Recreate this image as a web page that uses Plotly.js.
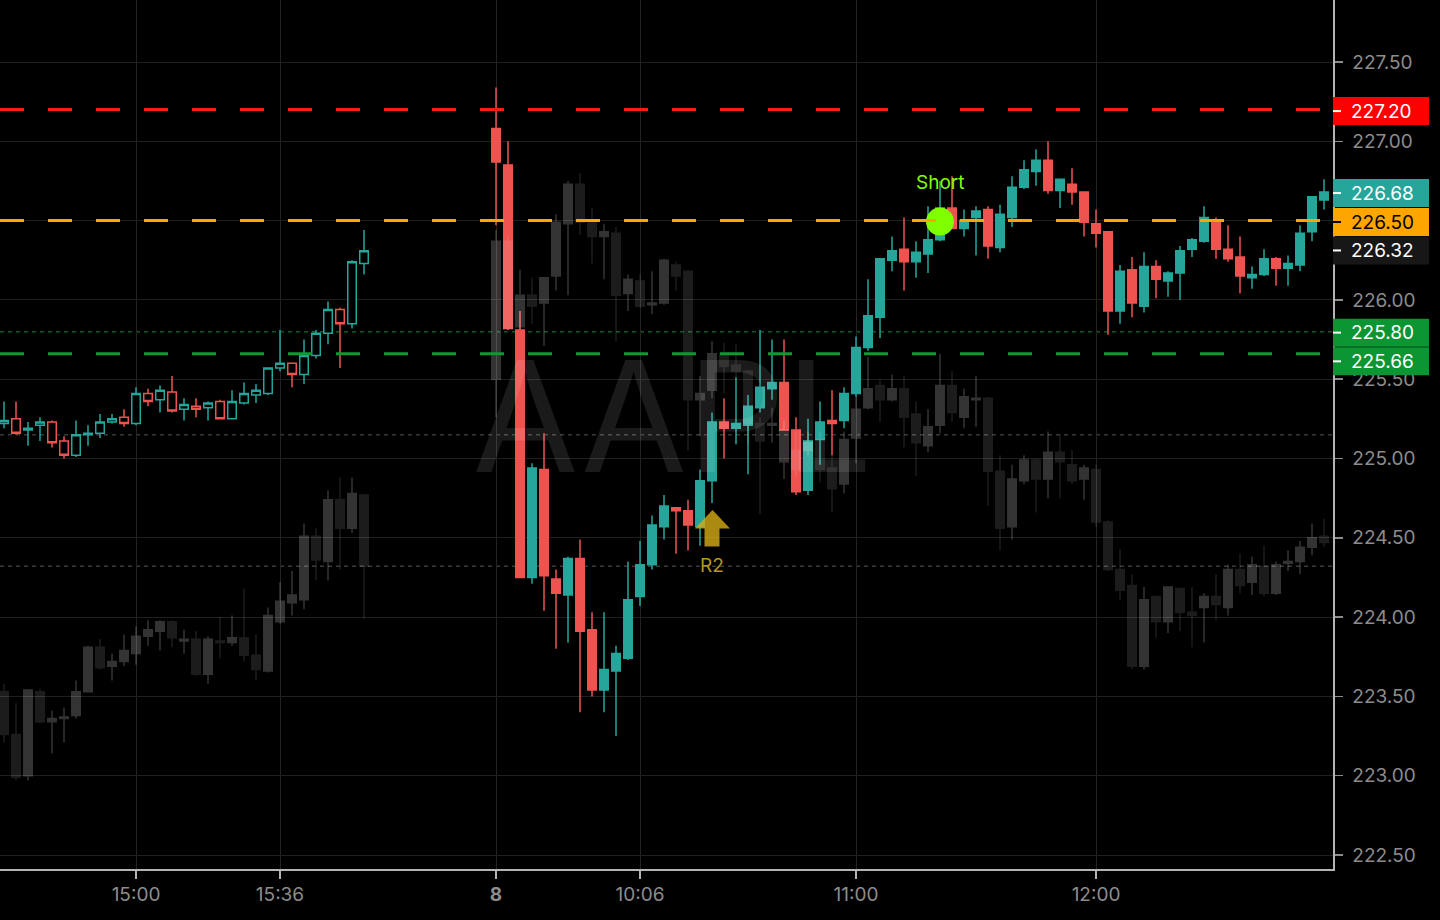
<!DOCTYPE html>
<html>
<head>
<meta charset="utf-8">
<script src="https://cdn.plot.ly/plotly-3.0.1.min.js"></script>
<style>
html,body{margin:0;padding:0;background:#000;overflow:hidden}
#chart{width:1440px;height:920px}
</style>
</head>
<body>
<div id="chart"></div>
<script>
// ---------- DATA ----------
// bar slots (3-minute bars); session 1 = 14:27..15:57, session 2 (day 8) = 09:30..12:57
const session1Slots = Array.from({length: 31}, (_, i) => i);
const session2Slots = Array.from({length: 70}, (_, i) => 41 + i);

const timeTickSlots  = [11, 23, 41, 53, 71, 91];
const timeTickLabels = ['15:00', '15:36', '<b>8</b>', '10:06', '11:00', '12:00'];
const priceTicks = [222.5, 223.0, 223.5, 224.0, 224.5, 225.0, 225.5, 226.0, 226.5, 227.0, 227.5];

// AAPL, session 1
const aaplOpen1  = [225.22,225.25,225.18,225.21,225.23,225.11,225.02,225.15,225.16,225.23,225.26,225.22,225.41,225.37,225.42,225.31,225.33,225.32,225.36,225.25,225.35,225.40,225.41,225.57,225.60,225.53,225.65,225.79,225.94,225.85,226.23];
const aaplHigh1  = [225.36,225.36,225.23,225.26,225.24,225.14,225.24,225.21,225.28,225.28,225.31,225.45,225.44,225.46,225.52,225.38,225.38,225.36,225.37,225.43,225.48,225.47,225.57,225.81,225.60,225.75,225.81,225.99,225.95,226.25,226.44];
const aaplLow1   = [225.19,225.15,225.08,225.11,225.07,225.00,225.01,225.08,225.13,225.22,225.20,225.21,225.33,225.29,225.29,225.24,225.26,225.24,225.25,225.25,225.34,225.35,225.40,225.55,225.45,225.47,225.63,225.72,225.57,225.82,226.16];
const aaplClose1 = [225.24,225.16,225.19,225.23,225.10,225.02,225.15,225.16,225.23,225.25,225.22,225.41,225.36,225.43,225.30,225.34,225.31,225.35,225.25,225.36,225.41,225.43,225.57,225.60,225.53,225.65,225.79,225.94,225.85,226.24,226.31];

// AAPL, session 2
const aaplOpen2  = [227.08,226.85,225.81,224.25,224.93,224.24,224.14,224.37,223.92,223.54,223.66,223.74,224.13,224.33,224.57,224.69,224.67,224.57,224.86,225.23,225.19,225.21,225.32,225.44,225.48,225.18,224.80,225.12,225.24,225.24,225.41,225.70,225.89,226.25,226.32,226.24,226.29,226.38,226.58,226.45,226.52,226.57,226.33,226.52,226.71,226.81,226.88,226.69,226.73,226.68,226.48,226.43,225.93,226.19,225.96,226.21,226.12,226.17,226.32,226.37,226.50,226.32,226.27,226.14,226.16,226.26,226.20,226.22,226.43,226.63];
const aaplHigh2  = [227.34,227.00,225.93,224.97,225.16,224.30,224.38,224.49,224.03,224.03,223.82,224.35,224.48,224.64,224.77,224.69,224.74,224.93,225.29,225.38,225.51,225.40,225.81,225.75,225.75,225.26,225.25,225.36,225.43,225.45,225.77,226.13,226.26,226.40,226.52,226.37,226.59,226.75,226.78,226.57,226.59,226.59,226.60,226.78,226.88,226.95,227.00,226.76,226.83,226.68,226.57,226.43,226.22,226.27,226.30,226.25,226.18,226.34,226.39,226.59,226.52,226.47,226.40,226.21,226.32,226.27,226.28,226.47,226.65,226.76];
const aaplLow2   = [226.47,225.81,224.25,224.21,224.04,223.80,223.84,223.40,223.50,223.40,223.25,223.73,224.07,224.30,224.49,224.40,224.42,224.45,224.72,225.00,225.09,224.90,225.29,225.37,225.18,224.77,224.77,224.96,225.02,225.19,225.39,225.68,225.76,226.18,226.06,226.14,226.17,226.37,226.45,226.40,226.28,226.26,226.30,226.46,226.70,226.72,226.67,226.58,226.60,226.40,226.33,225.78,225.85,225.89,225.92,226.01,226.02,226.00,226.27,226.36,226.26,226.24,226.04,226.07,226.15,226.09,226.09,226.18,226.37,226.57];
const aaplClose2 = [226.87,225.82,224.25,224.94,224.26,224.15,224.37,223.91,223.54,223.67,223.77,224.11,224.33,224.58,224.70,224.67,224.58,224.86,225.23,225.19,225.22,225.33,225.45,225.48,225.18,224.79,225.11,225.23,225.22,225.41,225.70,225.90,226.26,226.31,226.24,226.30,226.38,226.58,226.45,226.50,226.56,226.34,226.54,226.71,226.82,226.88,226.69,226.76,226.68,226.49,226.42,225.93,226.18,225.98,226.21,226.13,226.17,226.31,226.38,226.52,226.32,226.26,226.15,226.16,226.26,226.20,226.23,226.42,226.65,226.68];

// comparison overlay (grey candles), session 1
const cmpOpen1  = [223.53,223.26,223.00,223.53,223.34,223.36,223.38,223.53,223.81,223.69,223.72,223.77,223.88,223.91,223.97,223.85,223.86,223.64,223.85,223.84,223.87,223.76,223.66,223.97,224.09,224.11,224.51,224.35,224.74,224.56,224.77];
const cmpHigh1  = [223.58,223.46,223.54,223.55,223.41,223.43,223.60,223.82,223.86,223.77,223.89,223.94,223.98,223.98,223.98,223.92,223.91,223.88,224.00,224.01,224.18,223.89,224.06,224.22,224.29,224.59,224.56,224.80,224.88,224.88,224.77];
const cmpLow1   = [223.21,222.97,222.97,223.33,223.14,223.21,223.36,223.53,223.67,223.60,223.69,223.70,223.82,223.79,223.81,223.77,223.63,223.58,223.74,223.82,223.72,223.60,223.65,223.96,224.01,224.05,224.23,224.23,224.30,224.53,223.99];
const cmpClose1 = [223.26,222.99,223.54,223.34,223.36,223.37,223.53,223.81,223.68,223.72,223.79,223.88,223.92,223.97,223.87,223.86,223.64,223.86,223.84,223.87,223.76,223.67,224.01,224.10,224.14,224.51,224.36,224.74,224.56,224.78,224.32];

// comparison overlay (grey candles), session 2
const cmpOpen2  = [225.50,226.37,225.83,226.03,225.98,226.15,226.48,226.73,226.49,226.40,226.42,226.04,226.12,225.97,225.98,226.22,226.18,225.37,225.43,225.66,225.59,225.55,225.22,225.21,224.98,225.05,225.05,225.12,224.94,224.84,225.13,225.32,225.46,225.37,225.44,225.28,225.08,225.21,225.46,225.26,225.37,225.38,224.92,224.57,224.86,224.99,224.87,225.04,224.96,224.87,224.93,224.60,224.30,224.20,223.69,224.13,223.97,224.18,224.03,224.06,224.13,224.06,224.30,224.22,224.32,224.15,224.34,224.35,224.44,224.51];
const cmpHigh2  = [226.44,226.40,226.19,226.14,226.14,226.54,226.75,226.80,226.58,226.48,226.46,226.16,226.16,226.18,226.26,226.24,226.19,225.52,225.74,225.73,225.72,225.56,225.26,225.32,225.24,225.17,225.17,225.17,225.02,225.17,225.39,225.64,225.50,225.53,225.52,225.36,225.31,225.66,225.55,225.44,225.52,225.39,225.02,224.96,225.02,225.00,225.17,225.15,225.05,224.96,224.96,224.61,224.43,224.27,224.19,224.13,224.19,224.18,224.19,224.15,224.27,224.33,224.40,224.38,224.45,224.35,224.42,224.48,224.59,224.62];
const cmpLow2   = [225.26,225.81,225.82,225.85,225.71,226.06,226.03,226.41,226.23,226.13,225.74,225.93,225.95,225.91,225.97,226.06,225.05,225.14,225.38,225.41,225.50,225.09,224.65,225.10,224.87,224.89,225.02,224.85,224.66,224.78,224.97,225.31,225.23,225.36,225.07,224.89,225.04,225.16,225.23,225.19,225.20,224.70,224.42,224.49,224.84,224.66,224.75,224.75,224.84,224.74,224.57,224.29,224.11,223.67,223.67,223.87,223.90,223.91,223.81,223.84,223.98,224.01,224.15,224.14,224.13,224.14,224.29,224.27,224.39,224.44];
const cmpClose2 = [226.37,225.82,226.03,225.96,226.14,226.49,226.73,226.49,226.40,226.43,226.03,226.13,225.96,225.98,226.25,226.15,225.37,225.41,225.66,225.58,225.55,225.22,225.11,225.22,225.18,224.93,225.10,224.93,224.81,225.12,225.31,225.44,225.37,225.44,225.26,225.10,225.20,225.46,225.29,225.39,225.38,224.92,224.56,224.87,224.99,224.87,225.04,224.98,224.86,224.94,224.60,224.30,224.17,223.69,224.11,223.97,224.19,224.03,224.01,224.13,224.08,224.30,224.20,224.33,224.15,224.33,224.35,224.44,224.50,224.47];

// horizontal levels
const dashedLevels      = [227.20, 226.50, 225.66];
const dashedLevelColors = ['#ff1a1a', '#ffa500', '#0f9a30'];
const dottedLevels      = [225.80, 225.15, 224.32];
const dottedLevelColors = ['#0f5a24', '#3a3a3a', '#3a3a3a'];

// price tags on the right scale
const tagPrices     = [227.20, 226.68, 226.50, 226.32, 225.80, 225.66];
const tagFill       = ['#ff0000', '#26a69a', '#ffa500', '#171717', '#0b9633', '#0b9633'];
const tagTextColor  = ['#ffffff', '#ffffff', '#000000', '#ffffff', '#ffffff', '#ffffff'];

// signals
const shortSlot = 78, shortPrice = 226.50, shortLabel = 'Short';
const r2Slot = 59, r2Label = 'R2';
const symbol = 'AAPL';

// ---------- STYLE / LAYOUT ----------
const TEAL = '#26a69a', RED = '#ef5350';
const tagShift = [-1.5, -1, -1.4, -1.3, -1, -7.5];   // px nudges to avoid overlaps
const plotW = 1333;

function candle(x, o, h, l, c, hollow) {
  return {
    type: 'candlestick', x: x, open: o, high: h, low: l, close: c,
    increasing: {line: {color: TEAL, width: 1.5}, fillcolor: hollow ? '#000000' : TEAL},
    decreasing: {line: {color: RED, width: 1.5}, fillcolor: hollow ? '#000000' : RED},
    whiskerwidth: 0, hoverinfo: 'skip', showlegend: false
  };
}
function greyCandles(up, opacity) {
  const xs = [], o = [], h = [], l = [], c = [];
  const push = (slots, O, H, L, C) => {
    for (let i = 0; i < slots.length; i++) {
      if ((C[i] >= O[i]) === up) { xs.push(slots[i]); o.push(O[i]); h.push(H[i]); l.push(L[i]); c.push(C[i]); }
    }
  };
  push(session1Slots, cmpOpen1, cmpHigh1, cmpLow1, cmpClose1);
  push(session2Slots, cmpOpen2, cmpHigh2, cmpLow2, cmpClose2);
  return {
    type: 'candlestick', x: xs, open: o, high: h, low: l, close: c,
    increasing: {line: {color: '#ffffff', width: 1.5}, fillcolor: '#ffffff'},
    decreasing: {line: {color: '#ffffff', width: 1.5}, fillcolor: '#ffffff'},
    whiskerwidth: 0, opacity: opacity, hoverinfo: 'skip', showlegend: false
  };
}

const traces = [
  {type: 'scatter', mode: 'text', x: [55.7], y: [225.16], text: [symbol],
   textfont: {family: 'Inter, Roboto, sans-serif', size: 154, color: 'rgba(255,255,255,0.1)'},
   hoverinfo: 'skip', showlegend: false},
  candle(session1Slots, aaplOpen1, aaplHigh1, aaplLow1, aaplClose1, true),
  candle(session2Slots, aaplOpen2, aaplHigh2, aaplLow2, aaplClose2, false),
  greyCandles(true, 0.2),
  greyCandles(false, 0.11)
];

const shapes = [];
shapes.push({type: 'circle', xref: 'x', yref: 'y', xsizemode: 'pixel', ysizemode: 'pixel',
  xanchor: shortSlot, yanchor: shortPrice, x0: -14, x1: 14, y0: -15, y1: 13,
  fillcolor: '#7fff00', line: {width: 0}, layer: 'above'});
dottedLevels.forEach((p, i) => shapes.push({type: 'line', xref: 'paper', x0: 0, x1: 1, yref: 'y', y0: p, y1: p,
  line: {color: dottedLevelColors[i], width: 1.5, dash: '4px,4px'}, layer: 'between'}));
dashedLevels.forEach((p, i) => shapes.push({type: 'line', xref: 'paper', x0: 0, x1: 1, yref: 'y', y0: p, y1: p,
  line: {color: dashedLevelColors[i], width: 3, dash: '24px,24px'}, layer: 'above'}));
const r2Low = aaplLow2[session2Slots.indexOf(r2Slot)];
shapes.push({type: 'path', xref: 'x', yref: 'y', xsizemode: 'pixel', ysizemode: 'pixel',
  xanchor: r2Slot, yanchor: r2Low,
  path: 'M 0.5 -7 L 18 -25.5 L 7.5 -25.5 L 7.5 -43.5 L -7.5 -43.5 L -7.5 -25.5 L -17 -25.5 Z',
  fillcolor: 'rgba(214,172,22,0.8)', line: {width: 0}, layer: 'above'});
tagPrices.forEach((p, i) => {
  shapes.push({type: 'rect', xref: 'paper', x0: 1, x1: 1 + 96 / plotW, yref: 'y', ysizemode: 'pixel',
    yanchor: p, y0: tagShift[i] - 14, y1: tagShift[i] + 14, fillcolor: tagFill[i], line: {width: 0}, layer: 'above'});
  shapes.push({type: 'line', xref: 'paper', x0: 1, x1: 1 + 8 / plotW, yref: 'y', ysizemode: 'pixel',
    yanchor: p, y0: tagShift[i], y1: tagShift[i], line: {color: tagTextColor[i] === '#000000' ? '#000' : '#fff', width: 2}, layer: 'above'});
});

const annotations = [];
tagPrices.forEach((p, i) => annotations.push({xref: 'paper', x: 1 + 16 / plotW, xanchor: 'left', yref: 'y', y: p,
  yshift: tagShift[i], text: p.toFixed(2), showarrow: false, font: {size: 19, color: tagTextColor[i]}}));
annotations.push({xref: 'x', yref: 'y', x: shortSlot, y: shortPrice, yshift: 38, text: shortLabel, showarrow: false,
  font: {size: 19, color: '#7fff00'}});
annotations.push({xref: 'x', yref: 'y', x: r2Slot, y: r2Low, yshift: -63, text: r2Label, showarrow: false,
  font: {size: 19, color: '#b8961a'}});

const layout = {
  width: 1440, height: 920,
  paper_bgcolor: '#000', plot_bgcolor: '#000',
  margin: {l: 0, r: 107, t: 0, b: 51},
  showlegend: false,
  boxgap: 0.29, boxgroupgap: 0,
  font: {family: 'Inter, Roboto, sans-serif', color: '#8c8c8c', size: 19},
  xaxis: {
    range: [-1 / 3, 110.75], tickmode: 'array', tickvals: timeTickSlots, ticktext: timeTickLabels,
    showgrid: true, gridcolor: '#242424', gridwidth: 1, zeroline: false,
    showline: true, linecolor: '#b4b4b4', linewidth: 1.5,
    ticks: 'outside', ticklen: 8, tickwidth: 1.5, tickcolor: '#b4b4b4',
    tickfont: {size: 19, color: '#8c8c8c'},
    rangeslider: {visible: false}, fixedrange: true
  },
  yaxis: {
    side: 'right', range: [222.4117, 227.891], tickmode: 'array', tickvals: priceTicks,
    ticktext: priceTicks.map(v => v.toFixed(2)),
    showgrid: true, gridcolor: '#1f1f1f', gridwidth: 1, zeroline: false,
    showline: true, linecolor: '#b4b4b4', linewidth: 1.5,
    ticks: 'outside', ticklen: 8, tickwidth: 1.5, tickcolor: '#8c8c8c',
    tickfont: {size: 19, color: '#8c8c8c'}, ticklabelstandoff: 6, fixedrange: true
  },
  shapes: shapes,
  annotations: annotations
};

Plotly.newPlot('chart', traces, layout, {displayModeBar: false, staticPlot: true});
</script>
</body>
</html>
